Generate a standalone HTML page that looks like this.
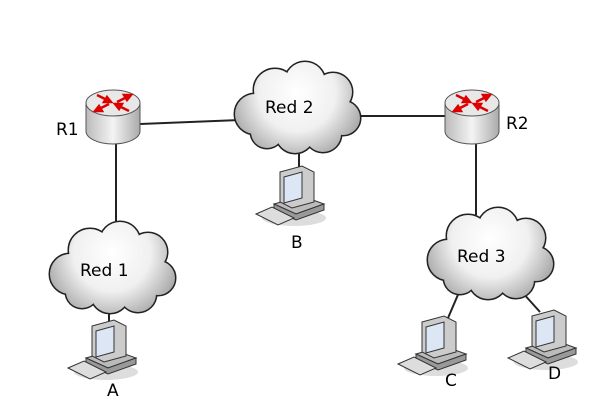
<!DOCTYPE html>
<html><head><style>html,body{margin:0;padding:0;background:#fff}svg{display:block}text{font-family:"DejaVu Sans","Liberation Sans",sans-serif;font-size:17px;fill:#000}</style></head>
<body>
<svg width="600" height="400" viewBox="0 0 600 400" xmlns="http://www.w3.org/2000/svg">
<defs>
<radialGradient id="cg" gradientUnits="userSpaceOnUse" cx="0" cy="-15" r="70"><stop offset="0" stop-color="#fff"/><stop offset="0.55" stop-color="#f0f0f0"/><stop offset="1" stop-color="#a8a8a8"/></radialGradient>
<linearGradient id="rg" x1="0" x2="1"><stop offset="0" stop-color="#bbb"/><stop offset="0.5" stop-color="#f4f4f4"/><stop offset="1" stop-color="#aaa"/></linearGradient>
<g id="cloud">
 <g stroke="#222" stroke-width="3" fill="#222">
  <circle cx="-42" cy="6" r="20"/><circle cx="-22" cy="-18" r="21"/><circle cx="8" cy="-26" r="20"/><circle cx="36" cy="-16" r="19"/><circle cx="46" cy="10" r="17"/><circle cx="26" cy="26" r="18"/><circle cx="-2" cy="26" r="19"/><circle cx="-30" cy="24" r="16"/>
 </g>
 <g fill="url(#cg)">
  <circle cx="-42" cy="6" r="20"/><circle cx="-22" cy="-18" r="21"/><circle cx="8" cy="-26" r="20"/><circle cx="36" cy="-16" r="19"/><circle cx="46" cy="10" r="17"/><circle cx="26" cy="26" r="18"/><circle cx="-2" cy="26" r="19"/><circle cx="-30" cy="24" r="16"/>
  <ellipse cx="2" cy="2" rx="45" ry="28"/>
 </g>
</g>
<g id="router">
 <path d="M-27,-12 V16 A27,13 0 0 0 27,16 V-12 Z" fill="url(#rg)" stroke="#555" stroke-width="1"/>
 <ellipse cx="0" cy="-12" rx="27" ry="13" fill="#e8e8e8" stroke="#555" stroke-width="1"/>
 <g stroke="#d00" stroke-width="2.5" fill="#d00">
  <line x1="-16" y1="-20" x2="-4" y2="-14"/><polygon points="-2,-13 -9,-13 -6,-18"/>
  <line x1="16" y1="-4" x2="4" y2="-10"/><polygon points="2,-11 9,-11 6,-6"/>
  <line x1="-16" y1="-5" x2="-4" y2="-11"/><polygon points="-18,-4 -11,-4 -14,-9"/>
  <line x1="16" y1="-19" x2="4" y2="-13"/><polygon points="18,-20 11,-20 14,-15"/>
 </g>
</g>
<g id="pc">
 <ellipse cx="36" cy="52" rx="32" ry="8" fill="#ddd"/>
 <path d="M16,38 L44,30 L66,38 L38,48 Z" fill="#bbb" stroke="#333" stroke-width="1"/>
 <path d="M16,38 V44 L38,54 L66,44 V38 L38,48 Z" fill="#999" stroke="#333" stroke-width="1"/>
 <path d="M22,6 L44,0 L56,6 V36 L34,42 L22,36 Z" fill="#ccc" stroke="#333" stroke-width="1"/>
 <path d="M26,11 L44,6 V32 L26,37 Z" fill="#dde6f4" stroke="#333" stroke-width="1"/>
 <path d="M-2,48 L14,41 L36,52 L20,59 Z" fill="#ddd" stroke="#333" stroke-width="1"/>
</g>
</defs>
<g stroke="#222" stroke-width="2">
 <line x1="140" y1="124" x2="240" y2="120"/>
 <line x1="355" y1="116" x2="448" y2="116"/>
 <line x1="116" y1="140" x2="116" y2="230"/>
 <line x1="299" y1="145" x2="299" y2="172"/>
 <line x1="476" y1="140" x2="476" y2="215"/>
 <line x1="109" y1="300" x2="109" y2="325"/>
 <line x1="460" y1="290" x2="448" y2="318"/>
 <line x1="522" y1="292" x2="540" y2="312"/>
</g>
<use href="#cloud" transform="translate(297,108)"/>
<use href="#cloud" transform="translate(112,268)"/>
<use href="#cloud" transform="translate(490,254)"/>
<use href="#router" transform="translate(113,115)"/>
<use href="#router" transform="translate(472,115)"/>
<use href="#pc" transform="translate(258,166)"/>
<use href="#pc" transform="translate(70,320)"/>
<use href="#pc" transform="translate(400,316)"/>
<use href="#pc" transform="translate(510,310)"/>
<text x="56" y="135">R1</text>
<text x="506" y="129">R2</text>
<text x="265" y="113">Red 2</text>
<text x="80" y="276">Red 1</text>
<text x="457" y="262">Red 3</text>
<text x="291" y="248">B</text>
<text x="107" y="396">A</text>
<text x="445" y="386">C</text>
<text x="548" y="379">D</text>
</svg>
</body></html>
